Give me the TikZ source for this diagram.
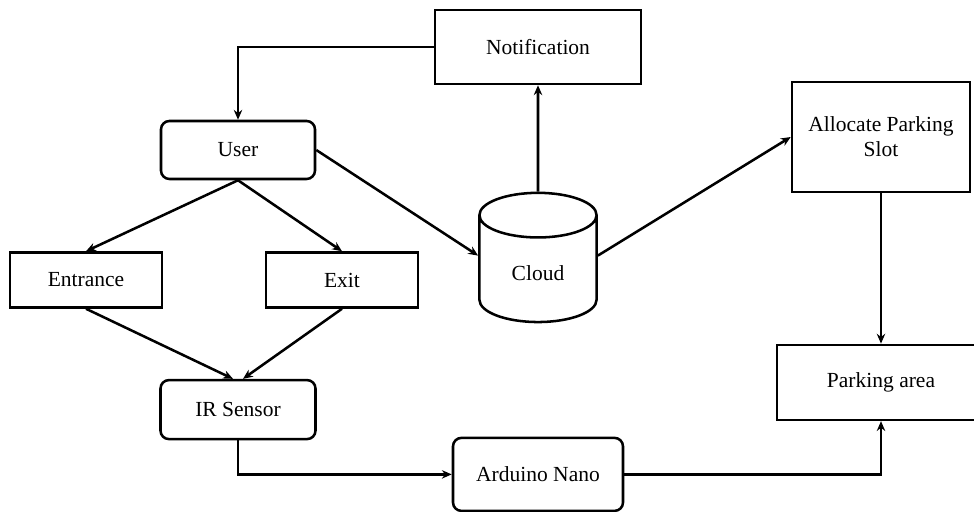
\documentclass[tikz,border=0pt]{standalone}
\usepackage{fontspec}
\setmainfont{Liberation Serif}
\usetikzlibrary{arrows.meta,shapes.geometric}
\tikzset{
  box/.style={draw, align=center, inner sep=2pt},
  rbox/.style={draw, rounded corners=6pt, align=center},
  store/.style={draw, cylinder, shape border rotate=90, aspect=0.72}
}
\begin{document}
\begin{tikzpicture}[font=\fontsize{15.3}{17.8}\selectfont, line width=1.8pt,
  >={Stealth[length=7pt,width=6pt]}]
      \useasboundingbox (0,0) rectangle (24.35,-12.8);
      \node[box, minimum width=5.15cm, minimum height=1.85cm] (notif) at (13.45,-1.175) {Notification};
      \node[rbox, minimum width=3.85cm, minimum height=1.45cm] (user) at (5.95,-3.75) {User};
      \node[box, minimum width=3.8cm, minimum height=1.375cm] (entr) at (2.15,-7) {Entrance};
      \node[box, minimum width=3.8cm, minimum height=1.375cm] (exit) at (8.55,-7) {Exit};
      \node[store, minimum width=2.93cm, minimum height=3.23cm] (cloud) at (13.45,-6.84) {Cloud};
      \node[box, minimum width=4.45cm, minimum height=2.75cm] (alloc) at (22.025,-3.425) {Allocate Parking\\Slot};
      \node[box, minimum width=5.2cm, minimum height=1.875cm] (park) at (22.025,-9.56) {Parking area};
      \node[rbox, minimum width=3.875cm, minimum height=1.475cm] (ir) at (5.95,-10.24) {IR Sensor};
      \node[rbox, minimum width=4.25cm, minimum height=1.825cm] (nano) at (13.45,-11.86) {Arduino Nano};
      \draw [->] (notif.west) -| (user.north);
      \draw [->] (user.south) -- (entr.north);
      \draw [->] (user.south) -- (exit.north);
      \draw [->] (user.east) -- ([yshift=0.45cm]cloud.west);
      \draw [->] (cloud.north) -- (notif.south);
      \draw [->] ([yshift=0.45cm]cloud.east) -- (alloc.west);
      \draw [->] (alloc.south) -- (park.north);
      \draw [->] (entr.south) -- ([xshift=-0.125cm]ir.north);
      \draw [->] (exit.south) -- ([xshift=0.125cm]ir.north);
      \draw [->] (ir.south) |- (nano.west);
      \draw [->] (nano.east) -| (park.south);
    \end{tikzpicture}
\end{document}
